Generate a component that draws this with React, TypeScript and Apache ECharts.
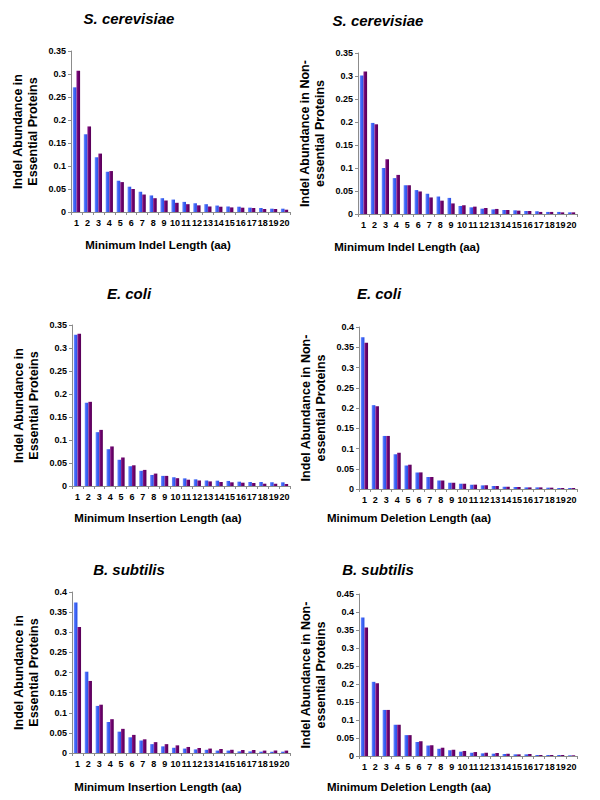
import React, { useEffect, useRef } from "react";
import * as echarts from "echarts";

const lengths = ["1", "2", "3", "4", "5", "6", "7", "8", "9", "10", "11", "12", "13", "14", "15", "16", "17", "18", "19", "20"];

// S. cerevisiae, essential (indel)
const scEssBlue = [0.271, 0.169, 0.119, 0.0875, 0.068, 0.055, 0.044, 0.036, 0.030, 0.027, 0.022, 0.019, 0.017, 0.014, 0.012, 0.0115, 0.0094, 0.0087, 0.0072, 0.0072];
const scEssPurple = [0.307, 0.186, 0.127, 0.089, 0.065, 0.050, 0.038, 0.030, 0.025, 0.020, 0.017, 0.0145, 0.012, 0.0115, 0.010, 0.0094, 0.0087, 0.0065, 0.0065, 0.005];
// S. cerevisiae, non-essential (indel)
const scNonBlue = [0.301, 0.198, 0.100, 0.078, 0.0625, 0.052, 0.044, 0.038, 0.035, 0.0175, 0.0145, 0.0116, 0.010, 0.0087, 0.008, 0.0065, 0.006, 0.0045, 0.0045, 0.0036];
const scNonPurple = [0.310, 0.195, 0.119, 0.085, 0.0625, 0.049, 0.036, 0.029, 0.023, 0.019, 0.016, 0.013, 0.011, 0.0087, 0.0073, 0.0065, 0.0045, 0.0045, 0.0036, 0.0036];
// E. coli, essential (insertion)
const ecEssBlue = [0.329, 0.181, 0.117, 0.080, 0.057, 0.043, 0.033, 0.024, 0.022, 0.019, 0.0166, 0.0145, 0.012, 0.0116, 0.011, 0.0094, 0.0087, 0.0087, 0.008, 0.008];
const ecEssPurple = [0.331, 0.183, 0.122, 0.086, 0.062, 0.045, 0.035, 0.027, 0.022, 0.017, 0.0137, 0.012, 0.010, 0.0087, 0.008, 0.0072, 0.0065, 0.005, 0.005, 0.0043];
// E. coli, non-essential (deletion)
const ecNonBlue = [0.375, 0.207, 0.131, 0.086, 0.058, 0.041, 0.0296, 0.021, 0.0156, 0.013, 0.0107, 0.009, 0.0074, 0.0057, 0.005, 0.004, 0.004, 0.0033, 0.0025, 0.0025];
const ecNonPurple = [0.361, 0.2045, 0.131, 0.0895, 0.060, 0.041, 0.0296, 0.021, 0.0156, 0.013, 0.0107, 0.009, 0.0074, 0.0057, 0.005, 0.004, 0.004, 0.0033, 0.0025, 0.0025];
// B. subtilis, essential (insertion)
const bsEssBlue = [0.374, 0.202, 0.117, 0.077, 0.053, 0.039, 0.031, 0.022, 0.0165, 0.013, 0.011, 0.009, 0.008, 0.006, 0.006, 0.004, 0.004, 0.0033, 0.0033, 0.0033];
const bsEssPurple = [0.313, 0.179, 0.120, 0.084, 0.060, 0.045, 0.034, 0.027, 0.022, 0.019, 0.015, 0.0124, 0.011, 0.010, 0.008, 0.0074, 0.0074, 0.006, 0.006, 0.006];
// B. subtilis, non-essential (deletion)
const bsNonBlue = [0.385, 0.206, 0.128, 0.087, 0.058, 0.039, 0.029, 0.020, 0.016, 0.012, 0.0093, 0.0074, 0.0065, 0.0056, 0.0046, 0.0046, 0.0028, 0.0028, 0.0028, 0.0019];
const bsNonPurple = [0.357, 0.202, 0.128, 0.087, 0.058, 0.041, 0.030, 0.023, 0.0177, 0.014, 0.011, 0.0093, 0.0084, 0.0065, 0.0046, 0.0056, 0.0028, 0.0028, 0.0028, 0.0019];

const panelTitles = ["S. cerevisiae", "S. cerevisiae", "E. coli", "E. coli", "B. subtilis", "B. subtilis"];
const xNames = [
  "Minimum Indel Length (aa)",
  "Minimum Indel Length (aa)",
  "Minimum Insertion Length (aa)",
  "Minimum Deletion Length (aa)",
  "Minimum Insertion Length (aa)",
  "Minimum Deletion Length (aa)",
];
const yNames = [
  "Indel Abundance in\nEssential Proteins",
  "Indel Abundance in Non-\nessential Proteins",
  "Indel Abundance in\nEssential Proteins",
  "Indel Abundance in Non-\nessential Proteins",
  "Indel Abundance in\nEssential Proteins",
  "Indel Abundance in Non-\nessential Proteins",
];
const yMax = [0.35, 0.35, 0.35, 0.4, 0.4, 0.45];
const blueSeries = [scEssBlue, scNonBlue, ecEssBlue, ecNonBlue, bsEssBlue, bsNonBlue];
const purpleSeries = [scEssPurple, scNonPurple, ecEssPurple, ecNonPurple, bsEssPurple, bsNonPurple];

// layout (pixels)
const grids = [
  { left: 71, top: 51, width: 219, height: 161 },
  { left: 358, top: 53, width: 219, height: 161 },
  { left: 72, top: 325, width: 218, height: 161 },
  { left: 359, top: 327, width: 218, height: 162 },
  { left: 72, top: 592, width: 218, height: 161 },
  { left: 359, top: 594, width: 218, height: 162 },
];
const titlePos = [
  [129, 18], [378, 20], [129, 293], [379, 293], [129, 569], [378, 569],
];
const xNamePos = [
  [158, 245], [407, 247], [158, 518], [409, 518], [158, 787], [409, 787],
];

const FONT = '"Liberation Sans", Arial, sans-serif';
const BLUE = new echarts.graphic.LinearGradient(0, 0, 1, 0, [
  { offset: 0, color: "#6f8cff" },
  { offset: 0.5, color: "#3a62f5" },
  { offset: 1, color: "#2a4fe0" },
]);
const PURPLE = new echarts.graphic.LinearGradient(0, 0, 1, 0, [
  { offset: 0, color: "#8a1c8a" },
  { offset: 0.5, color: "#6a006a" },
  { offset: 1, color: "#560056" },
]);

export default function App() {
  const ref = useRef<HTMLDivElement>(null);
  useEffect(() => {
    if (!ref.current) return;
    const chart = echarts.init(ref.current, undefined, { renderer: "svg" });
    const xAxis: any[] = [];
    const yAxis: any[] = [];
    const series: any[] = [];
    const graphic: any[] = [];
    grids.forEach((g, i) => {
      xAxis.push({
        type: "category",
        gridIndex: i,
        data: lengths,
        boundaryGap: true,
        axisLine: { show: true, lineStyle: { color: "#8c8c8c", width: 1 } },
        axisTick: { show: true, length: 3, lineStyle: { color: "#8c8c8c" } },
        axisLabel: {
          interval: 0,
          margin: 6,
          color: "#000",
          fontSize: 9,
          fontWeight: "bold",
          fontFamily: FONT,
        },
      });
      yAxis.push({
        type: "value",
        gridIndex: i,
        min: 0,
        max: yMax[i],
        interval: 0.05,
        splitLine: { show: false },
        axisLine: { show: true, lineStyle: { color: "#8c8c8c", width: 1 } },
        axisTick: { show: true, length: 3, lineStyle: { color: "#8c8c8c" } },
        axisLabel: {
          margin: 5,
          color: "#000",
          fontSize: 9,
          fontWeight: "bold",
          fontFamily: FONT,
        },
        name: yNames[i],
        nameLocation: "middle",
        nameRotate: 90,
        nameGap: 30,
        nameTextStyle: {
          color: "#000",
          fontSize: 12.5,
          fontWeight: "bold",
          fontFamily: FONT,
          lineHeight: 15.5,
        },
      });
      series.push({
        type: "bar",
        name: "Blue",
        xAxisIndex: i,
        yAxisIndex: i,
        data: blueSeries[i],
        barGap: "0%",
        barCategoryGap: "34%",
        itemStyle: { color: BLUE },
      });
      series.push({
        type: "bar",
        name: "Purple",
        xAxisIndex: i,
        yAxisIndex: i,
        data: purpleSeries[i],
        barGap: "0%",
        barCategoryGap: "34%",
        itemStyle: { color: PURPLE },
      });
      graphic.push({
        type: "text",
        x: titlePos[i][0],
        y: titlePos[i][1],
        style: {
          text: panelTitles[i],
          fill: "#000",
          font: `italic bold 15px ${FONT}`,
          textAlign: "center",
          textVerticalAlign: "middle",
        },
      });
      graphic.push({
        type: "text",
        x: xNamePos[i][0],
        y: xNamePos[i][1],
        style: {
          text: xNames[i],
          fill: "#000",
          font: `bold 11.5px ${FONT}`,
          textAlign: "center",
          textVerticalAlign: "middle",
        },
      });
    });
    chart.setOption({
      animation: false,
      backgroundColor: "#ffffff",
      grid: grids.map((g) => ({ ...g, containLabel: false })),
      xAxis,
      yAxis,
      series,
      graphic,
    });
    return () => chart.dispose();
  }, []);
  return (
    <div
      ref={ref}
      style={{ position: "absolute", left: 0, top: 0, width: 600, height: 800 }}
    />
  );
}
